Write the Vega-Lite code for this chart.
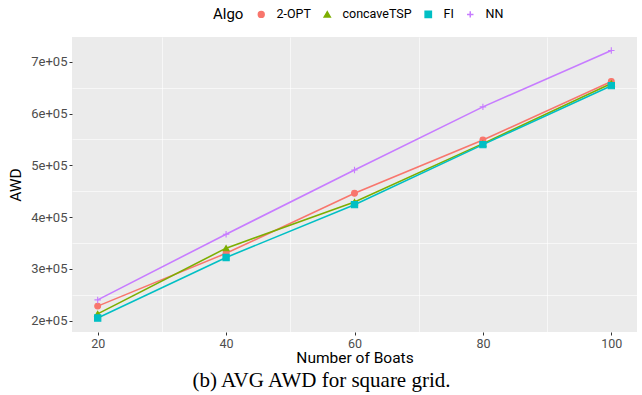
{
  "$schema": "https://vega.github.io/schema/vega-lite/v6.json",
  "autosize": {"type": "none"},
  "width": 565,
  "height": 295,
  "padding": {"left": 72, "top": 37, "right": 5, "bottom": 63},
  "background": "white",
  "config": {
    "view": {"fill": "#EBEBEB", "stroke": null},
    "font": "Roboto",
    "axis": {"domain": false, "labelFont": "Roboto", "titleFont": "Roboto", "labelColor": "#4D4D4D", "labelFontSize": 13, "titleFontSize": 15.5, "titleFontWeight": "normal", "titleColor": "black", "tickColor": "#333333", "tickSize": 3, "gridColor": "white"},
    "legend": {"orient": "none", "legendX": 141, "legendY": -29, "direction": "horizontal", "titleOrient": "left", "titleFontSize": 15, "titleFontWeight": "normal", "titleFont": "Roboto", "labelFont": "Roboto", "labelFontSize": 12.5, "labelColor": "black", "titleColor": "black", "columnPadding": 10, "titlePadding": 11, "labelOffset": 9}
  },
  "title": {"text": "(b) AVG AWD for square grid.", "orient": "bottom", "anchor": "middle", "font": "Liberation Serif", "fontSize": 21, "fontWeight": "normal", "color": "black", "offset": 4, "dx": -33},
  "data": {"values": [
    {"Boats": 20, "AWD": 228000, "Algo": "2-OPT"},
    {"Boats": 40, "AWD": 330000, "Algo": "2-OPT"},
    {"Boats": 60, "AWD": 446000, "Algo": "2-OPT"},
    {"Boats": 80, "AWD": 549000, "Algo": "2-OPT"},
    {"Boats": 100, "AWD": 662000, "Algo": "2-OPT"},
    {"Boats": 20, "AWD": 213000, "Algo": "concaveTSP"},
    {"Boats": 40, "AWD": 340000, "Algo": "concaveTSP"},
    {"Boats": 60, "AWD": 429000, "Algo": "concaveTSP"},
    {"Boats": 80, "AWD": 542000, "Algo": "concaveTSP"},
    {"Boats": 100, "AWD": 658000, "Algo": "concaveTSP"},
    {"Boats": 20, "AWD": 205000, "Algo": "FI"},
    {"Boats": 40, "AWD": 322000, "Algo": "FI"},
    {"Boats": 60, "AWD": 424000, "Algo": "FI"},
    {"Boats": 80, "AWD": 540000, "Algo": "FI"},
    {"Boats": 100, "AWD": 654000, "Algo": "FI"},
    {"Boats": 20, "AWD": 240000, "Algo": "NN"},
    {"Boats": 40, "AWD": 367000, "Algo": "NN"},
    {"Boats": 60, "AWD": 491000, "Algo": "NN"},
    {"Boats": 80, "AWD": 613000, "Algo": "NN"},
    {"Boats": 100, "AWD": 722000, "Algo": "NN"}
  ]},
  "resolve": {"axis": {"x": "independent", "y": "independent"}},
  "layer": [
    {
      "mark": {"type": "line", "strokeWidth": 1.6},
      "encoding": {
        "x": {"field": "Boats", "type": "quantitative", "scale": {"domain": [16, 104], "nice": false, "zero": false},
              "axis": {"orient": "bottom", "values": [30, 50, 70, 90], "labels": false, "ticks": false, "title": null, "gridWidth": 0.6}},
        "y": {"field": "AWD", "type": "quantitative", "scale": {"domain": [178000, 748000], "nice": false, "zero": false},
              "axis": {"orient": "left", "values": [250000, 350000, 450000, 550000, 650000], "labels": false, "ticks": false, "title": null, "gridWidth": 0.6}},
        "stroke": {"field": "Algo", "type": "nominal", "title": "Algo", "scale": {"domain": ["2-OPT", "concaveTSP", "FI", "NN"], "range": ["#F8766D", "#7CAE00", "#00BFC4", "#C77CFF"]}}
      }
    },
    {
      "mark": {"type": "point", "filled": true, "strokeWidth": 1.1, "opacity": 1},
      "encoding": {
        "x": {"field": "Boats", "type": "quantitative",
              "axis": {"orient": "bottom", "values": [20, 40, 60, 80, 100], "title": "Number of Boats", "gridWidth": 1.2, "labelPadding": 2, "labelFontSize": 12.5, "titlePadding": 1}},
        "y": {"field": "AWD", "type": "quantitative",
              "axis": {"orient": "left", "values": [200000, 300000, 400000, 500000, 600000, 700000], "title": "AWD", "gridWidth": 1.2, "labelPadding": 2, "titlePadding": 7,
                       "labelExpr": "replace(format(datum.value, '.0e'), '+', '+0')"}},
        "fill": {"field": "Algo", "type": "nominal", "title": "Algo", "scale": {"domain": ["2-OPT", "concaveTSP", "FI", "NN"], "range": ["#F8766D", "#7CAE00", "#00BFC4", "#C77CFF"]}},
        "shape": {"field": "Algo", "type": "nominal", "title": "Algo", "scale": {"domain": ["2-OPT", "concaveTSP", "FI", "NN"], "range": ["circle", "triangle-up", "square", "M-1,0L1,0M0,-1L0,1"]}},
        "size": {"field": "Algo", "type": "nominal", "title": "Algo", "scale": {"domain": ["2-OPT", "concaveTSP", "FI", "NN"], "range": [34, 42, 42, 120]}},
        "stroke": {"field": "Algo", "type": "nominal", "title": "Algo"}
      }
    }
  ]
}
